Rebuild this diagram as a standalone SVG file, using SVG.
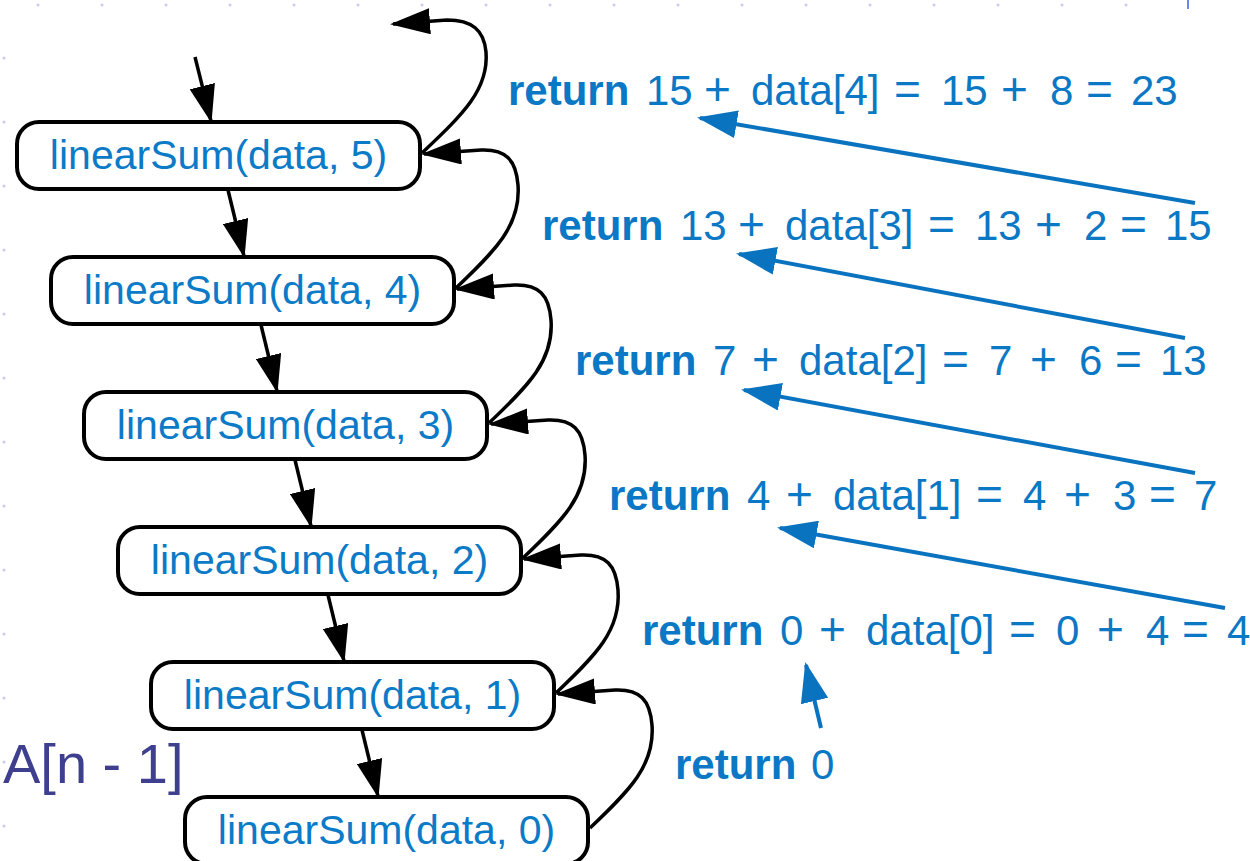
<svg xmlns="http://www.w3.org/2000/svg" width="1250" height="861" viewBox="0 0 1250 861">
<defs>
<marker id="ah" markerUnits="userSpaceOnUse" markerWidth="40" markerHeight="26" viewBox="0 0 40 26" refX="37" refY="13" orient="auto"><path d="M0,0 L40,13 L0,26 z" fill="#000"/></marker>
<marker id="ahd" markerUnits="userSpaceOnUse" markerWidth="38" markerHeight="26" viewBox="0 0 38 26" refX="36" refY="13" orient="auto"><path d="M0,0 L38,13 L0,26 z" fill="#000"/></marker>
<marker id="ahb" markerUnits="userSpaceOnUse" markerWidth="40" markerHeight="28" viewBox="0 0 40 28" refX="37" refY="14" orient="auto"><path d="M0,0 L40,14 L0,28 z" fill="#0a73c0"/></marker>
<style>
.node rect{fill:#fff;stroke:#000;stroke-width:4}
.node text{font-family:"Liberation Sans",Arial,sans-serif;font-size:41px;fill:#0b7ac7;text-anchor:middle}
.call{fill:none;stroke:#000;stroke-width:3.5;marker-end:url(#ahd)}
.ret{fill:none;stroke:#000;stroke-width:3.5;marker-end:url(#ah)}
.blue{fill:none;stroke:#0a73c0;stroke-width:4;marker-end:url(#ahb)}
.val{font-family:"Liberation Sans",Arial,sans-serif;font-size:42px;fill:#0a78c4}
.kw{font-weight:bold}
.op{font-size:46px}
.dot{fill:#c3cdf2}
</style>
</defs>
<rect width="1250" height="861" fill="#fff"/>
<g id="decor">
<g class="dot">
<circle cx="38" cy="5" r="1.5"/><circle cx="102" cy="5" r="1.5"/><circle cx="166" cy="5" r="1.5"/><circle cx="230" cy="5" r="1.5"/><circle cx="294" cy="5" r="1.5"/><circle cx="358" cy="5" r="1.5"/><circle cx="422" cy="5" r="1.5"/><circle cx="486" cy="5" r="1.5"/><circle cx="550" cy="5" r="1.5"/><circle cx="614" cy="5" r="1.5"/><circle cx="678" cy="5" r="1.5"/><circle cx="742" cy="5" r="1.5"/><circle cx="806" cy="5" r="1.5"/><circle cx="870" cy="5" r="1.5"/><circle cx="934" cy="5" r="1.5"/><circle cx="998" cy="5" r="1.5"/><circle cx="1062" cy="5" r="1.5"/><circle cx="1126" cy="5" r="1.5"/>
<circle cx="4" cy="58" r="1.5"/><circle cx="4" cy="122" r="1.5"/><circle cx="4" cy="186" r="1.5"/><circle cx="4" cy="250" r="1.5"/><circle cx="4" cy="314" r="1.5"/><circle cx="4" cy="378" r="1.5"/><circle cx="4" cy="442" r="1.5"/><circle cx="4" cy="506" r="1.5"/><circle cx="4" cy="570" r="1.5"/><circle cx="4" cy="634" r="1.5"/><circle cx="4" cy="698" r="1.5"/><circle cx="4" cy="762" r="1.5"/><circle cx="4" cy="826" r="1.5"/>
</g>
<line x1="1188" y1="0" x2="1188" y2="9" stroke="#6b86f0" stroke-width="2"/>
</g>
<g id="connectors">
<path class="call" d="M195,57 L211,121"/>
<path class="call" d="M228,190 L244,256"/>
<path class="call" d="M261,325 L277,391"/>
<path class="call" d="M295,460 L311,526"/>
<path class="call" d="M328,595 L344,661"/>
<path class="call" d="M362,730 L378,796"/>
<path class="ret" d="M422,153 C462,115 489,90 486,52 C484,30 472,20 447,20 L393,24"/>
<path class="ret" d="M456,288 C496,250 521,225 518,185 C516,160 506,149 481,150 L424,154"/>
<path class="ret" d="M489,423 C529,385 554,360 551,320 C549,295 539,284 514,285 L457,289"/>
<path class="ret" d="M523,558 C563,520 588,495 585,455 C583,430 573,419 548,420 L491,424"/>
<path class="ret" d="M556,693 C596,655 621,630 618,590 C616,565 606,554 581,555 L524,559"/>
<path class="ret" d="M590,828 C630,790 655,765 652,725 C650,700 640,689 615,690 L558,694"/>
<path class="blue" d="M1195,203 L700,118"/>
<path class="blue" d="M1185,338 L739,254"/>
<path class="blue" d="M1195,473 L744,390"/>
<path class="blue" d="M1225,608 L780,528"/>
<path class="blue" d="M821,728 L806,665"/>
</g>
<g id="n5" class="node"><rect x="17" y="122" width="403" height="67" rx="22"/><text x="218.5" y="169">linearSum(data, 5)</text></g>
<g id="n4" class="node"><rect x="51" y="257" width="403" height="67" rx="22"/><text x="252.5" y="304">linearSum(data, 4)</text></g>
<g id="n3" class="node"><rect x="84" y="392" width="403" height="67" rx="22"/><text x="285.5" y="439">linearSum(data, 3)</text></g>
<g id="n2" class="node"><rect x="118" y="527" width="403" height="67" rx="22"/><text x="319.5" y="574">linearSum(data, 2)</text></g>
<g id="n1" class="node"><rect x="151" y="662" width="403" height="67" rx="22"/><text x="352.5" y="709">linearSum(data, 1)</text></g>
<g id="n0" class="node"><rect x="185" y="797" width="403" height="67" rx="22"/><text x="386.5" y="844">linearSum(data, 0)</text></g>
<g id="labels">
<text class="val" y="105"><tspan class="kw" x="508">return</tspan><tspan x="646">15</tspan><tspan class="op" x="704">+</tspan><tspan x="751">data[4]</tspan><tspan class="op" x="894">=</tspan><tspan x="941">15</tspan><tspan class="op" x="1001">+</tspan><tspan x="1050">8</tspan><tspan class="op" x="1086">=</tspan><tspan x="1131">23</tspan></text>
<text class="val" y="240"><tspan class="kw" x="542">return</tspan><tspan x="680">13</tspan><tspan class="op" x="738">+</tspan><tspan x="785">data[3]</tspan><tspan class="op" x="928">=</tspan><tspan x="975">13</tspan><tspan class="op" x="1035">+</tspan><tspan x="1084">2</tspan><tspan class="op" x="1120">=</tspan><tspan x="1165">15</tspan></text>
<text class="val" y="375"><tspan class="kw" x="575">return</tspan><tspan x="713">7</tspan><tspan class="op" x="752">+</tspan><tspan x="799">data[2]</tspan><tspan class="op" x="942">=</tspan><tspan x="989">7</tspan><tspan class="op" x="1030">+</tspan><tspan x="1079">6</tspan><tspan class="op" x="1115">=</tspan><tspan x="1160">13</tspan></text>
<text class="val" y="510"><tspan class="kw" x="609">return</tspan><tspan x="747">4</tspan><tspan class="op" x="786">+</tspan><tspan x="833">data[1]</tspan><tspan class="op" x="976">=</tspan><tspan x="1023">4</tspan><tspan class="op" x="1064">+</tspan><tspan x="1113">3</tspan><tspan class="op" x="1149">=</tspan><tspan x="1194">7</tspan></text>
<text class="val" y="645"><tspan class="kw" x="642">return</tspan><tspan x="780">0</tspan><tspan class="op" x="819">+</tspan><tspan x="866">data[0]</tspan><tspan class="op" x="1009">=</tspan><tspan x="1056">0</tspan><tspan class="op" x="1097">+</tspan><tspan x="1146">4</tspan><tspan class="op" x="1182">=</tspan><tspan x="1227">4</tspan></text>
<text class="val" y="779"><tspan class="kw" x="675">return</tspan><tspan x="811">0</tspan></text>
<text x="3" y="783" font-family="'Liberation Sans',Arial,sans-serif" font-size="56" fill="#3f3f8f">A[n - 1]</text>
</g>
</svg>
